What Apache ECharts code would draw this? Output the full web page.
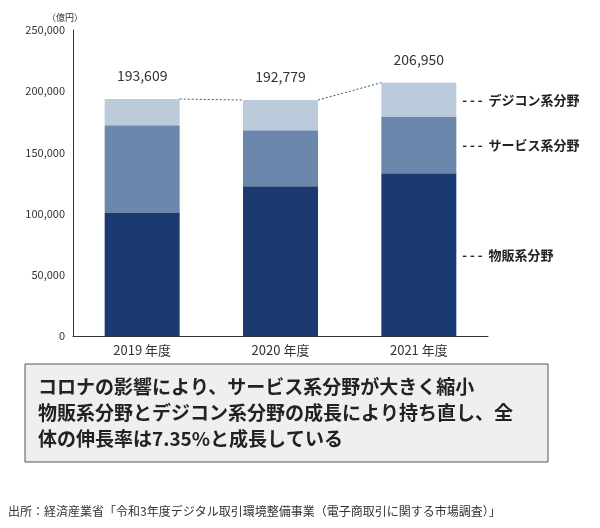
<!DOCTYPE html>
<html><head><meta charset="utf-8">
<script src="https://cdn.jsdelivr.net/npm/echarts@6/dist/echarts.min.js"></script>
<style>body{margin:0}#main{width:600px;height:528px}</style>
</head><body><div id="main"></div>
<script>
var years = ['2019 年度', '2020 年度', '2021 年度'];
var goods = [100515, 122333, 132865];
var service = [71672, 45832, 46424];
var digital = [21422, 24614, 27661];
var totals = [193609, 192779, 206950];
var seriesNames = ['物販系分野', 'サービス系分野', 'デジコン系分野'];
var colors = ['#1b3a72', '#6c87ac', '#bccbdc'];
var font = '"Noto Sans CJK JP", "Noto Sans", sans-serif';

function sideLabel(name) {
	return {
		show: true, position: 'right', distance: 6, color: '#222', fontSize: 13, fontWeight: 'bold', fontFamily: font,
		formatter: function(p) { return p.dataIndex == 2 ? '- - -  ' + name : ''; }
	};
}

var myChart = echarts.init(document.getElementById('main'));
myChart.setOption({
	animation: false,
	textStyle: {fontFamily: font},
	grid: {left: 73, right: 112, top: 30, bottom: 192},
	xAxis: {type: 'category', data: years,
		axisLine: {lineStyle: {color: '#333'}}, axisTick: {show: false},
		axisLabel: {color: '#333', fontSize: 13, margin: 8}},
	yAxis: {type: 'value', min: 0, max: 250000, interval: 50000,
		name: '（億円）', nameGap: 8, nameTextStyle: {fontSize: 9, color: '#333', align: 'right', padding: [0, -10, 0, 0]},
		axisLine: {show: true, lineStyle: {color: '#333'}}, axisTick: {show: false}, splitLine: {show: false},
		axisLabel: {color: '#333', fontSize: 11, formatter: function(v) { return v.toLocaleString('en-US'); }}},
	series: [
		{name: seriesNames[0], type: 'bar', stack: 'a', barWidth: 75, data: goods, itemStyle: {color: colors[0]}, label: sideLabel(seriesNames[0])},
		{name: seriesNames[1], type: 'bar', stack: 'a', data: service, itemStyle: {color: colors[1]}, label: sideLabel(seriesNames[1])},
		{name: seriesNames[2], type: 'bar', stack: 'a', data: digital, itemStyle: {color: colors[2]}, label: sideLabel(seriesNames[2])},
		{type: 'custom', data: totals.map(function(t, i) { return [i, t]; }), z: 5,
			renderItem: function(params, api) {
				var i = api.value(0);
				var p = api.coord([i, api.value(1)]);
				var children = [{type: 'text', style: {text: api.value(1).toLocaleString('en-US'), x: p[0], y: p[1] - 16,
					align: 'center', verticalAlign: 'bottom', fill: '#333', font: '14px ' + font}}];
				if (i < totals.length - 1) {
					var q = api.coord([i + 1, totals[i + 1]]);
					children.push({type: 'line', shape: {x1: p[0] + 37.5, y1: p[1], x2: q[0] - 37.5, y2: q[1]},
						style: {stroke: '#3a4f86', lineWidth: 1, lineDash: [2, 2]}});
				}
				return {type: 'group', children: children};
			}}
	],
	graphic: [
		{type: 'rect', shape: {x: 25, y: 364, width: 523, height: 98}, style: {fill: '#efefef', stroke: '#555', lineWidth: 1}},
		{type: 'text', left: 38, top: 374, style: {text: 'コロナの影響により、サービス系分野が大きく縮小\n物販系分野とデジコン系分野の成長により持ち直し、全\n体の伸長率は7.35%と成長している',
			font: 'bold 19px ' + font, fill: '#222', lineHeight: 26}},
		{type: 'text', left: 8, top: 505, style: {text: '出所：経済産業省「令和3年度デジタル取引環境整備事業（電子商取引に関する市場調査）」',
			font: '12px ' + font, fill: '#333'}}
	]
});
</script></body></html>
